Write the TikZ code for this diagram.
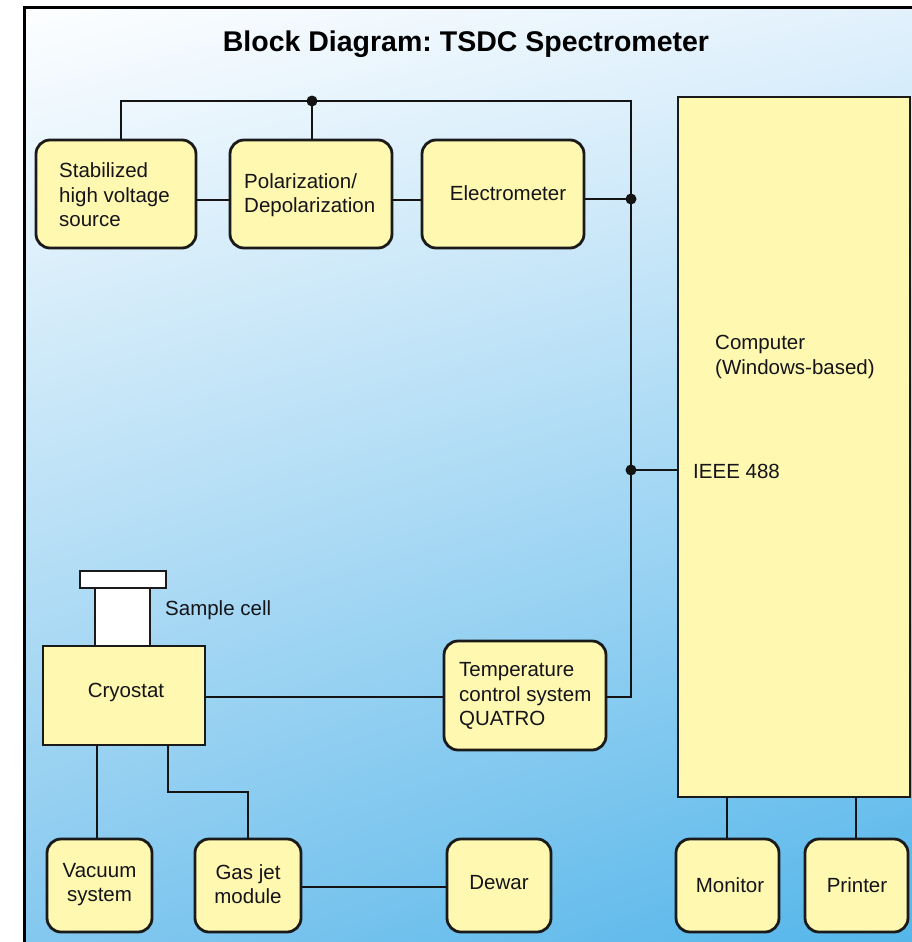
\documentclass[tikz,border=0pt]{standalone}
\usepackage{fontspec}
\setmainfont{Liberation Sans}
\usetikzlibrary{shadings}
\frenchspacing
\definecolor{boxfill}{RGB}{255,248,176}
\definecolor{boxline}{RGB}{26,26,26}
\definecolor{wirec}{RGB}{20,20,20}
\definecolor{txtc}{RGB}{20,20,25}
\definecolor{bgUL}{RGB}{253,254,255}
\definecolor{bgUR}{RGB}{226,241,252}
\definecolor{bgLL}{RGB}{132,200,239}
\definecolor{bgLR}{RGB}{84,182,234}
\begin{document}
\begin{tikzpicture}[x=1pt,y=-1pt,
  box/.style={draw=boxline, line width=2.8pt, fill=boxfill, rounded corners=14pt, inner sep=0},
  sqbox/.style={draw=boxline, line width=2.6pt, fill=boxfill, inner sep=0},
  cellbox/.style={draw=boxline, line width=2.6pt, fill=white, inner sep=0},
  wire/.style={draw=wirec, line width=2.7pt},
  txt/.style={font=\fontsize{20.5}{24.5}\selectfont, text=txtc, inner sep=0, align=left},
  ctxt/.style={font=\fontsize{20.5}{24}\selectfont, text=txtc, inner sep=0, align=center},
  jdot/.style={circle, fill=wirec, minimum size=11pt, inner sep=0}]
\useasboundingbox (0,0) rectangle (912,942);
% background
\shade[upper left=bgUL, upper right=bgUR, lower left=bgLL, lower right=bgLR] (24,8) rectangle (912,942);
\draw[line width=3pt, black] (24,942) -- (24,8) -- (912,8);
% title
\node[font=\bfseries\fontsize{28.5}{32}\selectfont, text=black, inner sep=0] (title) at (466,44) {Block Diagram: TSDC Spectrometer};
% junction coordinates
\coordinate (busL) at (121,101);
\coordinate (jP) at (312,101);
\coordinate (busR) at (631,101);
\coordinate (jE) at (631,199);
\coordinate (jI) at (631,470);
\coordinate (jT) at (631,697);
\coordinate (hy) at (0,200);
\coordinate (v1) at (97,0);
\coordinate (gb1) at (168,792);
\coordinate (gb2) at (248,792);
\coordinate (gy) at (0,887);
\coordinate (m1) at (727,0);
\coordinate (p1) at (856,0);
% boxes
\node[box, minimum width=160pt, minimum height=108pt] (hv) at (116,194) {};
\node[box, minimum width=162pt, minimum height=108pt] (pol) at (311,194) {};
\node[box, minimum width=162pt, minimum height=108pt] (elec) at (503,194) {};
\node[sqbox, minimum width=232pt, minimum height=700pt] (comp) at (794,447) {};
\node[cellbox, minimum width=86pt, minimum height=17pt] (cap) at (123,579.5) {};
\node[cellbox, minimum width=55pt, minimum height=58pt] (cell) at (122.5,617) {};
\node[sqbox, minimum width=162pt, minimum height=99pt] (cryo) at (124,695.5) {};
\node[box, minimum width=162pt, minimum height=109pt] (temp) at (525,695.5) {};
\node[box, minimum width=105pt, minimum height=93pt] (vac) at (99.5,885.5) {};
\node[box, minimum width=106pt, minimum height=93pt] (gas) at (248,885.5) {};
\node[box, minimum width=104pt, minimum height=93pt] (dewar) at (499,885.5) {};
\node[box, minimum width=103pt, minimum height=93pt] (mon) at (727.5,885.5) {};
\node[box, minimum width=103pt, minimum height=93pt] (prn) at (856.5,885.5) {};
% wires
\draw[wire] (hv.north -| busL) -- (busL) -- (busR) -- (jT) -- (temp.east |- jT);
\draw[wire] (jP) -- (pol.north -| jP);
\draw[wire] (hv.east |- hy) -- (pol.west |- hy);
\draw[wire] (pol.east |- hy) -- (elec.west |- hy);
\draw[wire] (elec.east |- jE) -- (jE);
\draw[wire] (jI) -- (comp.west |- jI);
\draw[wire] (cryo.east |- jT) -- (temp.west |- jT);
\draw[wire] (cryo.south -| v1) -- (vac.north -| v1);
\draw[wire] (cryo.south -| gb1) -- (gb1) -- (gb2) -- (gas.north -| gb2);
\draw[wire] (gas.east |- gy) -- (dewar.west |- gy);
\draw[wire] (comp.south -| m1) -- (mon.north -| m1);
\draw[wire] (comp.south -| p1) -- (prn.north -| p1);
% junction dots
\node[jdot] (dP) at (jP) {};
\node[jdot] (dE) at (jE) {};
\node[jdot] (dI) at (jI) {};
% texts
\node[txt, anchor=west] (thv) at (59,195) {Stabilized\\high voltage\\source};
\node[txt, anchor=west] (tpol) at (244,195) {Polarization/\\Depolarization};
\node[ctxt] (telec) at (508,193) {Electrometer};
\node[txt, anchor=west] (tcomp) at (715,357) {Computer\\(Windows-based)};
\node[txt, anchor=west] (tieee) at (693,471) {IEEE 488};
\node[txt, anchor=west] (tcell) at (165,610) {Sample cell};
\node[ctxt] (tcryo) at (126,692) {Cryostat};
\node[txt, anchor=west] (ttemp) at (459,696) {Temperature\\control system\\QUATRO};
\node[ctxt] (tvac) at (99.5,885) {Vacuum\\system};
\node[ctxt] (tgas) at (248,884) {Gas jet\\module};
\node[ctxt] (tdew) at (499,883) {Dewar};
\node[ctxt] (tmon) at (730,885) {Monitor};
\node[ctxt] (tprn) at (857,885) {Printer};
\end{tikzpicture}
\end{document}
